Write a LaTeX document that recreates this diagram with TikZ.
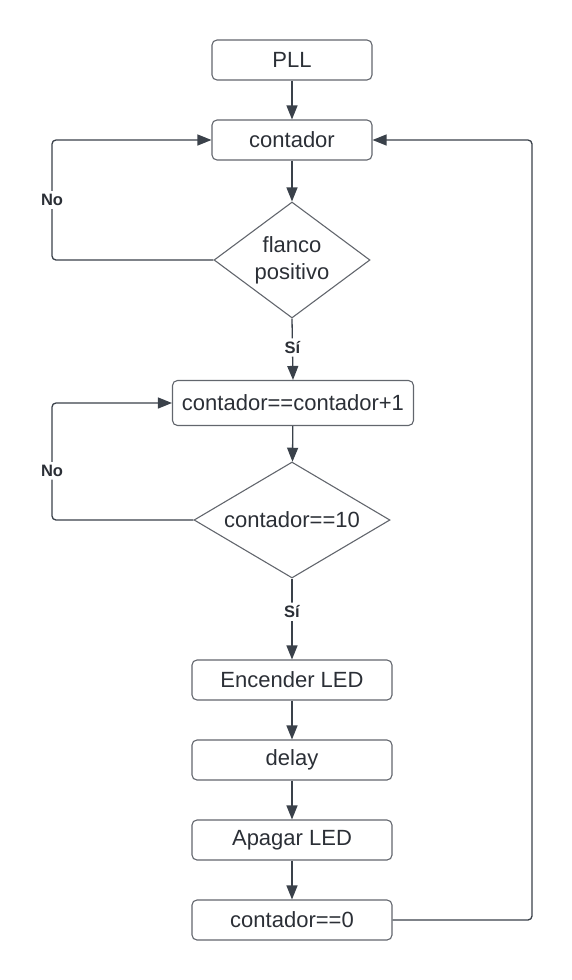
\documentclass[tikz,border=0pt]{standalone}
\usepackage{fontspec}
\setmainfont{Liberation Sans}
\usetikzlibrary{shapes.geometric,arrows.meta}
\definecolor{txtc}{HTML}{2B2F36}
\definecolor{linec}{HTML}{3A414A}
\definecolor{boxc}{HTML}{62666D}
\begin{document}
\begin{tikzpicture}[x=1pt, y=-1pt,
  proc/.style = {draw=boxc, line width=1.1pt, rounded corners=5pt, text=txtc,
    minimum height=40pt, inner sep=0pt, font=\fontsize{22}{26}\selectfont},
  cond/.style = {draw=boxc, line width=1.1pt, diamond, inner sep=0pt,
    minimum height=116pt, text=txtc, align=center, font=\fontsize{22}{27}\selectfont},
  arr/.style = {draw=linec, line width=1.3pt, rounded corners=4pt,
    -{Triangle[length=14pt,width=11pt]}},
  lbl/.style = {fill=white, text=txtc, inner sep=3pt, font=\fontsize{16.5}{20}\selectfont\bfseries}]
\useasboundingbox (0,0) rectangle (572,980);
\node [proc, minimum width=160pt] (pll) at (292,60) {PLL};
\node [proc, minimum width=160pt] (cont) at (292,140) {contador};
\node [cond, minimum width=156pt, aspect=1.34] (flanco) at (292,260) {flanco\\positivo};
\node [proc, minimum width=241pt, minimum height=45pt] (inc) at (293,403) {contador==contador+1};
\node [cond, minimum width=196pt, aspect=1.69] (diez) at (292,520) {contador==10};
\node [proc, minimum width=200pt] (led on) at (292,680) {Encender LED};
\node [proc, minimum width=200pt] (delay) at (292,760) {delay};
\node [proc, minimum width=200pt] (led off) at (292,840) {Apagar LED};
\node [proc, minimum width=200pt] (reset) at (292,920) {contador==0};
\coordinate (no1) at (52,140);
\coordinate (no2) at (52,403);
\coordinate (back) at (532,140);
\draw [arr] (pll) -- (cont);
\draw [arr] (cont) -- (flanco);
\draw [arr] (flanco.west) -| node [lbl, pos=0.75]{No} (no1) -- (cont.west);
\draw [arr] (flanco.south) -- node [lbl, pos=0.47]{Sí} (inc.north);
\draw [arr] (inc) -- (diez);
\draw [arr] (diez.west) -| node [lbl, pos=0.71]{No} (no2) -- (inc.west);
\draw [arr] (diez.south) -- node [lbl, pos=0.41]{Sí} (led on.north);
\draw [arr] (led on) -- (delay);
\draw [arr] (delay) -- (led off);
\draw [arr] (led off) -- (reset);
\draw [arr] (reset.east) -| (back) -- (cont.east);
\end{tikzpicture}
\end{document}
